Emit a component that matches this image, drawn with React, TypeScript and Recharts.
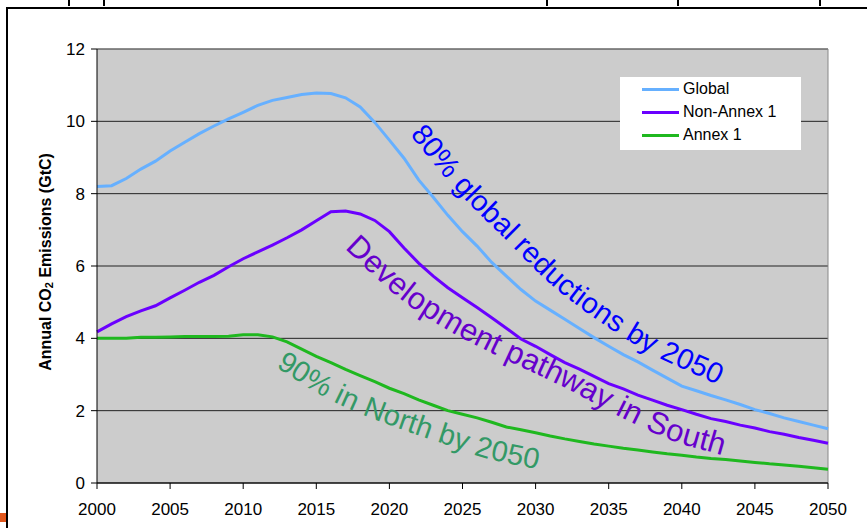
import React from 'react';
import {
  LineChart,
  Line,
  XAxis,
  YAxis,
  CartesianGrid,
  Legend,
  ReferenceLine,
} from 'recharts';

const FONT = "'Liberation Sans', Arial, sans-serif";

const years = [
  2000, 2001, 2002, 2003, 2004, 2005, 2006, 2007, 2008, 2009,
  2010, 2011, 2012, 2013, 2014, 2015, 2016, 2017, 2018, 2019,
  2020, 2021, 2022, 2023, 2024, 2025, 2026, 2027, 2028, 2029,
  2030, 2031, 2032, 2033, 2034, 2035, 2036, 2037, 2038, 2039,
  2040, 2041, 2042, 2043, 2044, 2045, 2046, 2047, 2048, 2049, 2050,
];

// GtC per year
const globalEmissions = [
  8.2, 8.22, 8.42, 8.68, 8.9, 9.18, 9.42, 9.66, 9.87, 10.07,
  10.25, 10.44, 10.58, 10.66, 10.74, 10.78, 10.77, 10.65, 10.4, 9.97,
  9.48, 8.98, 8.38, 7.9, 7.4, 6.95, 6.55, 6.1, 5.72, 5.35,
  5.03, 4.78, 4.53, 4.27, 4.02, 3.78, 3.55, 3.35, 3.12, 2.9,
  2.68, 2.55, 2.42, 2.3, 2.17, 2.03, 1.92, 1.8, 1.7, 1.6, 1.5,
];

const nonAnnexEmissions = [
  4.18, 4.4, 4.6, 4.76, 4.9, 5.12, 5.33, 5.55, 5.74, 5.98,
  6.2, 6.39, 6.58, 6.78, 7.0, 7.25, 7.5, 7.52, 7.44, 7.26,
  6.95, 6.5, 6.08, 5.72, 5.4, 5.12, 4.85, 4.57, 4.28, 3.98,
  3.78, 3.55, 3.33, 3.15, 2.95, 2.75, 2.6, 2.43, 2.29, 2.15,
  2.03, 1.9, 1.78, 1.7, 1.6, 1.52, 1.42, 1.35, 1.26, 1.18, 1.1,
];

const annexEmissions = [
  4.0, 4.0, 4.0, 4.03, 4.03, 4.04, 4.05, 4.05, 4.05, 4.06,
  4.1, 4.1, 4.04, 3.9, 3.7, 3.5, 3.33, 3.14, 2.97, 2.8,
  2.62, 2.47, 2.3, 2.15, 2.0, 1.9, 1.8, 1.68, 1.55, 1.47,
  1.39, 1.3, 1.22, 1.15, 1.08, 1.02, 0.96, 0.91, 0.86, 0.81,
  0.77, 0.72, 0.68, 0.65, 0.61, 0.57, 0.53, 0.5, 0.46, 0.42, 0.38,
];

const xTicks = [2000, 2005, 2010, 2015, 2020, 2025, 2030, 2035, 2040, 2045, 2050];
const yTicks = [0, 2, 4, 6, 8, 10, 12];

const seriesList = [
  { key: 'global', name: 'Global', color: '#66b0ff' },
  { key: 'nonAnnex', name: 'Non-Annex 1', color: '#6a00ff' },
  { key: 'annex', name: 'Annex 1', color: '#1fb81f' },
];

const data = years.map((year, i) => ({
  year,
  global: globalEmissions[i],
  nonAnnex: nonAnnexEmissions[i],
  annex: annexEmissions[i],
}));

// curved captions that follow the lines
const captions = [
  {
    id: 'cap-global',
    text: '80% global reductions by 2050',
    color: '#0000ff',
    size: 29,
    pts: [[404, 112], [423, 135], [465, 185], [512, 232], [561, 280], [615, 320], [660, 347], [714, 372], [741, 385]],
  },
  {
    id: 'cap-south',
    text: 'Development pathway in South',
    color: '#6600cc',
    size: 31,
    pts: [[335, 224], [357, 245], [385, 271], [413, 295], [452, 320], [492, 341], [528, 358], [570, 378], [627, 408], [675, 430], [719, 443], [748, 452]],
  },
  {
    id: 'cap-north',
    text: '90% in North by 2050',
    color: '#339966',
    size: 29,
    pts: [[262, 347], [288, 363], [320, 383], [347, 397], [378, 410], [425, 427], [458, 438], [490, 449], [532, 458], [561, 464]],
  },
];

// Catmull-Rom through the points, written as cubic segments
function smoothPath(pts: number[][]) {
  let d = `M${pts[0][0]},${pts[0][1]}`;
  for (let i = 0; i < pts.length - 1; i++) {
    const p0 = pts[i - 1] || pts[i];
    const p1 = pts[i];
    const p2 = pts[i + 1];
    const p3 = pts[i + 2] || p2;
    const c1x = p1[0] + (p2[0] - p0[0]) / 6;
    const c1y = p1[1] + (p2[1] - p0[1]) / 6;
    const c2x = p2[0] - (p3[0] - p1[0]) / 6;
    const c2y = p2[1] - (p3[1] - p1[1]) / 6;
    d += ` C${c1x},${c1y} ${c2x},${c2y} ${p2[0]},${p2[1]}`;
  }
  return d;
}

const LegendBox = () => (
  <div
    style={{
      width: 181,
      height: 73,
      background: '#fff',
      position: 'relative',
      fontFamily: FONT,
      fontSize: 16,
      color: '#000',
    }}
  >
    {seriesList.map((s, i) => (
      <div
        key={s.key}
        style={{
          position: 'absolute',
          left: 22,
          top: 1 + i * 23,
          height: 22,
          display: 'flex',
          alignItems: 'center',
          whiteSpace: 'nowrap',
        }}
      >
        <span style={{ display: 'inline-block', width: 37, height: 3, background: s.color, marginRight: 4 }} />
        <span>{s.name}</span>
      </div>
    ))}
  </div>
);

const YLabel = (props: any) => {
  const { viewBox } = props;
  const cy = viewBox.y + viewBox.height / 2 - 4;
  return (
    <text
      transform={`translate(45,${cy}) rotate(-90)`}
      textAnchor="middle"
      dominantBaseline="central"
      fontFamily={FONT}
      fontWeight="bold"
      fontSize={16}
      fill="#000"
    >
      Annual CO
      <tspan fontSize={11} dy={4}>2</tspan>
      <tspan dy={-4}> Emissions (GtC)</tspan>
    </text>
  );
};

export default function App() {
  return (
    <div style={{ position: 'absolute', left: 0, top: 0, width: 867, height: 528, background: '#fff', overflow: 'hidden' }}>
      {/* slide frame */}
      <div style={{ position: 'absolute', left: 6, top: 7, width: 861, height: 2, background: '#000' }} />
      <div style={{ position: 'absolute', left: 6, top: 7, width: 2, height: 521, background: '#000' }} />
      <div style={{ position: 'absolute', left: 0, top: 513, width: 6, height: 9, background: '#e0561c' }} />
      {[68, 103, 546, 677, 819].map((x) => (
        <div key={x} style={{ position: 'absolute', left: x, top: 0, width: 2, height: 6, background: '#000' }} />
      ))}

      <div style={{ position: 'absolute', left: 0, top: 0 }}>
        <LineChart
          width={867}
          height={528}
          data={data}
          margin={{ top: 49, right: 39, bottom: 0, left: 0 }}
        >
          <CartesianGrid vertical={false} stroke="#222" fill="#cccccc" fillOpacity={1} />
          <XAxis
            dataKey="year"
            type="number"
            domain={[2000, 2050]}
            ticks={xTicks}
            height={45}
            tickSize={6}
            tickMargin={14}
            axisLine={{ stroke: '#000' }}
            tickLine={{ stroke: '#000' }}
            tick={{ fill: '#000', fontSize: 17, fontFamily: FONT }}
            interval={0}
          />
          <YAxis
            domain={[0, 12]}
            ticks={yTicks}
            width={97}
            tickSize={6}
            tickMargin={6}
            axisLine={{ stroke: '#000' }}
            tickLine={{ stroke: '#000' }}
            tick={{ fill: '#000', fontSize: 17, fontFamily: FONT }}
            interval={0}
            label={<YLabel />}
          />
          <ReferenceLine y={12} stroke="#888" />
          <ReferenceLine x={2050} stroke="#888" />
          {seriesList.map((s) => (
            <Line
              key={s.key}
              dataKey={s.key}
              name={s.name}
              type="linear"
              stroke={s.color}
              strokeWidth={3}
              dot={false}
              isAnimationActive={false}
            />
          ))}
          <Legend
            layout="vertical"
            align="center"
            verticalAlign="middle"
            content={<LegendBox />}
            wrapperStyle={{ position: 'absolute', left: 620, top: 77, width: 181, height: 73 }}
          />
        </LineChart>
      </div>

      <svg
        width={867}
        height={528}
        style={{ position: 'absolute', left: 0, top: 0, pointerEvents: 'none' }}
      >
        <defs>
          {captions.map((c) => (
            <path key={c.id} id={c.id} d={smoothPath(c.pts)} fill="none" />
          ))}
        </defs>
        {captions.map((c) => (
          <text
            key={c.id}
            fontFamily={FONT}
            fontSize={c.size}
            fill={c.color}
            dominantBaseline="central"
          >
            <textPath href={`#${c.id}`} startOffset="50%" textAnchor="middle">
              {c.text}
            </textPath>
          </text>
        ))}
      </svg>
    </div>
  );
}
